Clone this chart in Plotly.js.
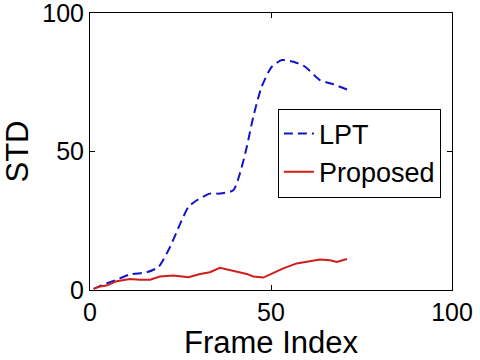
<!DOCTYPE html>
<html>
<head>
<meta charset="utf-8">
<script src="https://cdn.plot.ly/plotly-3.0.1.min.js"></script>
<style>
  html, body { margin: 0; padding: 0; background: #fff; }
  #chart { width: 480px; height: 360px; }
</style>
</head>
<body>
<div id="chart"></div>
<script>
// values
const lptFrames = [1, 3, 7, 11, 15.7, 18.9, 22.1, 24.9, 27.2, 29.5, 33.1, 35.9, 39.6, 41.4, 43.3, 45.1, 47.4, 50.2, 53, 56.2, 59.4, 63.5, 67.2, 71];
const lptStd    = [0.4, 1.6, 3.5, 5.6, 6.4, 8.3, 15.5, 23.9, 30, 32.4, 34.8, 34.8, 36, 42, 51.6, 62.5, 73.3, 80.6, 83, 82.4, 80.6, 75.8, 74.3, 72.4];

const propFrames = [1, 2.8, 4.6, 7.4, 11, 13.8, 16.6, 19.3, 23, 27.2, 30.4, 33.1, 35.9, 39.6, 43.3, 45.1, 47.9, 50.7, 53.4, 57.1, 60.8, 63.5, 66.3, 68.2, 71];
const propStd    = [0.4, 1.3, 1.6, 3.2, 4, 3.7, 3.7, 4.9, 5.2, 4.6, 5.8, 6.4, 8, 6.8, 5.8, 4.9, 4.5, 6.2, 7.8, 9.6, 10.5, 11, 10.7, 10.1, 11.2];

const tickVals = [0, 50, 100];

const font = 'Liberation Sans, Arial, Helvetica, sans-serif';

const traces = [
  {
    x: lptFrames, y: lptStd,
    mode: 'lines', type: 'scatter', name: 'LPT',
    line: { color: '#1414c4', width: 2, dash: '9px,5px', shape: 'spline', smoothing: 0.6 }
  },
  {
    x: propFrames, y: propStd,
    mode: 'lines', type: 'scatter', name: 'Proposed',
    line: { color: '#d01c1c', width: 2 }
  }
];

const axisBase = {
  range: [0, 100],
  tickvals: tickVals,
  ticks: 'inside',
  ticklen: 5,
  tickcolor: '#000',
  showline: true,
  linecolor: '#000',
  linewidth: 1,
  mirror: 'ticks',
  showgrid: false,
  zeroline: false,
  ticklabeloverflow: 'allow',
  tickfont: { family: font, size: 25, color: '#000' }
};

const layout = {
  width: 480, height: 360,
  paper_bgcolor: '#fff',
  plot_bgcolor: '#fff',
  margin: { l: 90, r: 28, t: 13, b: 70, autoexpand: false },
  xaxis: Object.assign({}, axisBase, {
    automargin: false,
    title: { text: 'Frame Index', font: { family: font, size: 31, color: '#000' }, standoff: 6 }
  }),
  yaxis: Object.assign({}, axisBase, {
    automargin: false,
    title: { text: 'STD', font: { family: font, size: 31, color: '#000' }, standoff: 22 }
  }),
  legend: {
    x: 0.519, y: 0.655, xanchor: 'left', yanchor: 'top',
    bgcolor: '#fff', bordercolor: '#000', borderwidth: 1,
    font: { family: font, size: 27, color: '#000' },
    tracegroupgap: 0
  },
  showlegend: true
};

Plotly.newPlot('chart', traces, layout, { staticPlot: true, displayModeBar: false });
</script>
</body>
</html>
